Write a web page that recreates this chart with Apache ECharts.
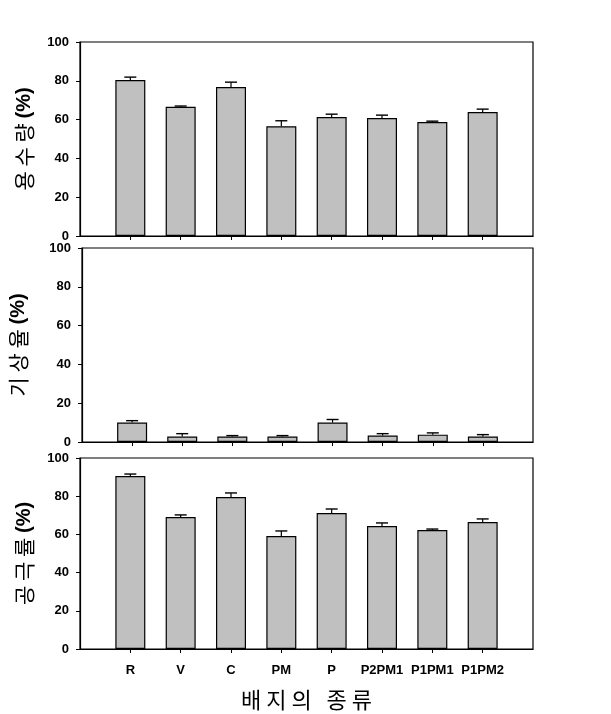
<!DOCTYPE html>
<html>
<head>
<meta charset="utf-8">
<script src="https://cdn.jsdelivr.net/npm/echarts@6/dist/echarts.min.js"></script>
<style>html,body{margin:0;padding:0;background:#fff}#c{width:611px;height:714px}</style>
</head>
<body>
<div id="c"></div>
<script>
var categories = ['R', 'V', 'C', 'PM', 'P', 'P2PM1', 'P1PM1', 'P1PM2'];
var yTicks = [0, 20, 40, 60, 80, 100];
var water = [80.4, 66.6, 76.8, 56.6, 61.3, 60.8, 58.7, 63.9];
var waterErr = [1.5, 0.4, 2.5, 2.8, 1.5, 1.5, 0.5, 1.5];
var air = [10.0, 2.8, 2.8, 2.8, 10.0, 3.3, 3.8, 2.8];
var airErr = [1.0, 1.5, 0.5, 0.5, 1.6, 1.0, 0.9, 1.0];
var porosity = [90.6, 69.1, 79.6, 59.2, 71.2, 64.4, 62.3, 66.5];
var porosityErr = [1.0, 1.1, 2.1, 2.6, 2.1, 1.6, 0.5, 1.6];
var yNames = ['용 수 량 ', '기 상 율 ', '공 극 률 '];
var xName = '배 지 의   종 류';

var axisCats = [''].concat(categories, ['']);
var latin = '"Liberation Sans", Arial, sans-serif';
var kor = '"Noto Sans CJK KR", sans-serif';

var panels = [
  {vals: water, errs: waterErr, top: 42, height: 194, gap: 45},
  {vals: air, errs: airErr, top: 248, height: 194, gap: 53},
  {vals: porosity, errs: porosityErr, top: 458, height: 191, gap: 45}
];

var grids = [], xAxes = [], yAxes = [], series = [];
panels.forEach(function (p, i) {
  grids.push({left: 80, right: 78, top: p.top, height: p.height, show: true, borderColor: '#000', borderWidth: 1.2, backgroundColor: 'transparent'});
  xAxes.push({
    type: 'category', gridIndex: i, data: axisCats, boundaryGap: false,
    axisLine: {lineStyle: {color: '#000', width: 1.2}},
    axisTick: {show: true, length: 4, inside: false, interval: function (idx) { return idx > 0 && idx < axisCats.length - 1; }, lineStyle: {color: '#000'}},
    axisLabel: {show: i === 2, interval: 0, margin: 15, color: '#000', fontFamily: latin, fontWeight: 'bold', fontSize: 13},
    splitLine: {show: false},
    name: i === 2 ? xName : '', nameLocation: 'middle', nameGap: 40,
    nameTextStyle: {fontFamily: kor, fontSize: 22, color: '#000'}
  });
  yAxes.push({
    type: 'value', gridIndex: i, min: 0, max: 100, interval: 20,
    axisLine: {show: true, lineStyle: {color: '#000', width: 1.2}},
    axisTick: {show: true, length: 4, lineStyle: {color: '#000'}},
    axisLabel: {margin: 11, color: '#000', fontFamily: latin, fontWeight: 'bold', fontSize: 13,
      formatter: function (v) { return yTicks.indexOf(v) >= 0 ? String(v) : ''; }},
    splitLine: {show: false},
    name: '{a|' + yNames[i] + '}{b|(%)}', nameLocation: 'middle', nameGap: p.gap, nameRotate: 90,
    nameTextStyle: {rich: {
      a: {fontFamily: kor, fontSize: 21, color: '#000'},
      b: {fontFamily: latin, fontSize: 20, fontWeight: 'bold', color: '#000'}
    }}
  });
  series.push({
    type: 'bar', xAxisIndex: i, yAxisIndex: i, barWidth: 30,
    data: ['-'].concat(p.vals, ['-']),
    itemStyle: {color: '#c0c0c0', borderColor: '#000', borderWidth: 1.2},
    silent: true, animation: false
  });
  series.push({
    type: 'custom', xAxisIndex: i, yAxisIndex: i, silent: true, animation: false, z: 1,
    data: p.vals.map(function (v, k) { return [k + 1, v, p.errs[k]]; }),
    renderItem: function (params, api) {
      var x = api.value(0), v = api.value(1), e = api.value(2);
      var a = api.coord([x, v]), b = api.coord([x, v + e]);
      var w = 6;
      return {type: 'group', children: [
        {type: 'line', shape: {x1: a[0], y1: a[1], x2: b[0], y2: b[1]}, style: {stroke: '#000', lineWidth: 1.2}},
        {type: 'line', shape: {x1: b[0] - w, y1: b[1], x2: b[0] + w, y2: b[1]}, style: {stroke: '#000', lineWidth: 1.4}}
      ]};
    }
  });
});

var chart = echarts.init(document.getElementById('c'), null, {renderer: 'canvas'});
chart.setOption({
  backgroundColor: '#fff', animation: false,
  grid: grids, xAxis: xAxes, yAxis: yAxes, series: series
});
</script>
</body>
</html>
